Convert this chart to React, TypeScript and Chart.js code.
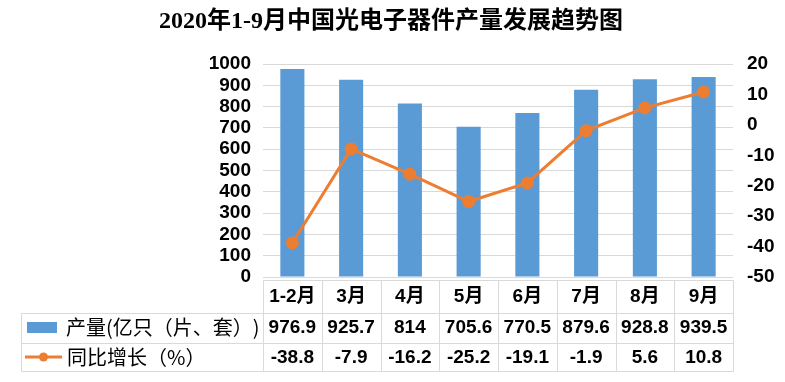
import React, { useEffect, useRef } from "react";
import { Chart, registerables } from "chart.js";

Chart.register(...registerables);

const title = "2020年1-9月中国光电子器件产量发展趋势图";
const categories = ["1-2月", "3月", "4月", "5月", "6月", "7月", "8月", "9月"];
const production = [976.9, 925.7, 814, 705.6, 770.5, 879.6, 928.8, 939.5];
const growth = [-38.8, -7.9, -16.2, -25.2, -19.1, -1.9, 5.6, 10.8];
const productionLabel = "产量(亿只（片、套）)";
const growthLabel = "同比增长（%）";

const BLUE = "#5B9BD5";
const ORANGE = "#ED7D31";
const GRID = "#D9D9D9";
const NUM_FONT = "bold 19px 'Liberation Sans', Arial, 'Noto Sans CJK SC', sans-serif";
const CJK_FONT = "20px 'Noto Sans CJK SC', sans-serif";

const fmt = (v: number) => String(v);

const tablePlugin = {
  id: "dataTable",
  afterDraw(chart: any) {
    const ctx = chart.ctx as CanvasRenderingContext2D;
    const { left, right } = chart.chartArea;
    const n = categories.length;
    const colW = (right - left) / n;
    const yTop = 280.5;
    const yR1 = 313.5;
    const yR2 = 343.5;
    const yBot = 371.5;
    const legendLeft = 21.5;
    ctx.save();
    ctx.strokeStyle = GRID;
    ctx.lineWidth = 1;
    ctx.beginPath();
    ctx.moveTo(Math.round(left) + 0.5, yTop);
    ctx.lineTo(Math.round(right) + 0.5, yTop);
    [yR1, yR2, yBot].forEach((y) => {
      ctx.moveTo(legendLeft, y);
      ctx.lineTo(Math.round(right) + 0.5, y);
    });
    ctx.moveTo(legendLeft, yR1);
    ctx.lineTo(legendLeft, yBot);
    for (let i = 0; i <= n; i++) {
      const x = Math.round(left + i * colW) + 0.5;
      ctx.moveTo(x, yTop);
      ctx.lineTo(x, yBot);
    }
    ctx.stroke();

    ctx.fillStyle = "#000";
    ctx.textAlign = "center";
    ctx.textBaseline = "middle";
    ctx.font = NUM_FONT;
    for (let i = 0; i < n; i++) {
      const cx = left + (i + 0.5) * colW;
      ctx.fillText(categories[i], cx, 297);
      ctx.fillText(fmt(production[i]), cx, 328);
      ctx.fillText(fmt(growth[i]), cx, 357.5);
    }

    ctx.fillStyle = BLUE;
    ctx.fillRect(27, 322, 30, 11);
    ctx.strokeStyle = ORANGE;
    ctx.lineWidth = 3;
    ctx.beginPath();
    ctx.moveTo(25, 357);
    ctx.lineTo(62, 357);
    ctx.stroke();
    ctx.fillStyle = ORANGE;
    ctx.beginPath();
    ctx.arc(43.5, 357, 4.5, 0, Math.PI * 2);
    ctx.fill();

    ctx.fillStyle = "#000";
    ctx.textAlign = "left";
    ctx.font = CJK_FONT;
    ctx.fillText(productionLabel, 66, 327);
    ctx.fillText(growthLabel, 67, 357);

    ctx.textAlign = "center";
    ctx.font = "600 24px 'Liberation Serif', 'Noto Sans CJK SC', serif";
    ctx.fillText(title, 391, 22);
    ctx.restore();
  },
};

export default function App() {
  const ref = useRef<HTMLCanvasElement | null>(null);
  useEffect(() => {
    if (!ref.current) return;
    const tickFont = { family: "'Liberation Sans', Arial, sans-serif", size: 19, weight: "bold" as const };
    const chart = new Chart(ref.current, {
      type: "bar",
      data: {
        labels: categories,
        datasets: [
          {
            type: "line" as const,
            label: growthLabel,
            data: growth,
            yAxisID: "y1",
            borderColor: ORANGE,
            backgroundColor: ORANGE,
            borderWidth: 3,
            pointRadius: 5,
            pointBackgroundColor: ORANGE,
            pointBorderColor: ORANGE,
            tension: 0,
            order: 0,
          },
          {
            type: "bar" as const,
            label: productionLabel,
            data: production,
            yAxisID: "y",
            backgroundColor: BLUE,
            barPercentage: 0.41,
            categoryPercentage: 1,
            order: 1,
          },
        ],
      },
      options: {
        responsive: false,
        animation: false,
        devicePixelRatio: 1,
        layout: { padding: { top: 64, bottom: 105, left: 0, right: 0 } },
        plugins: { legend: { display: false }, title: { display: false }, tooltip: { enabled: false } },
        scales: {
          x: { display: false, offset: true },
          y: {
            position: "left",
            min: 0,
            max: 1000,
            ticks: {
              stepSize: 100,
              autoSkip: false,
              color: "#000",
              font: tickFont,
              padding: 12,
              callback: (v: any) => String(v),
            },
            grid: { color: GRID, drawTicks: false },
            border: { display: false },
            afterFit(scale: any) {
              scale.width = 263;
            },
          },
          y1: {
            position: "right",
            min: -50,
            max: 20,
            ticks: {
              stepSize: 10,
              autoSkip: false,
              color: "#000",
              font: tickFont,
              padding: 14,
              callback: (v: any) => String(v),
            },
            grid: { drawOnChartArea: false, drawTicks: false },
            border: { display: false },
            afterFit(scale: any) {
              scale.width = 52;
            },
          },
        },
      },
      plugins: [tablePlugin],
    });
    return () => chart.destroy();
  }, []);
  return (
    <div style={{ position: "fixed", left: 0, top: 0, width: 785, height: 382, background: "#fff" }}>
      <canvas ref={ref} width={785} height={382} style={{ display: "block" }} />
    </div>
  );
}
